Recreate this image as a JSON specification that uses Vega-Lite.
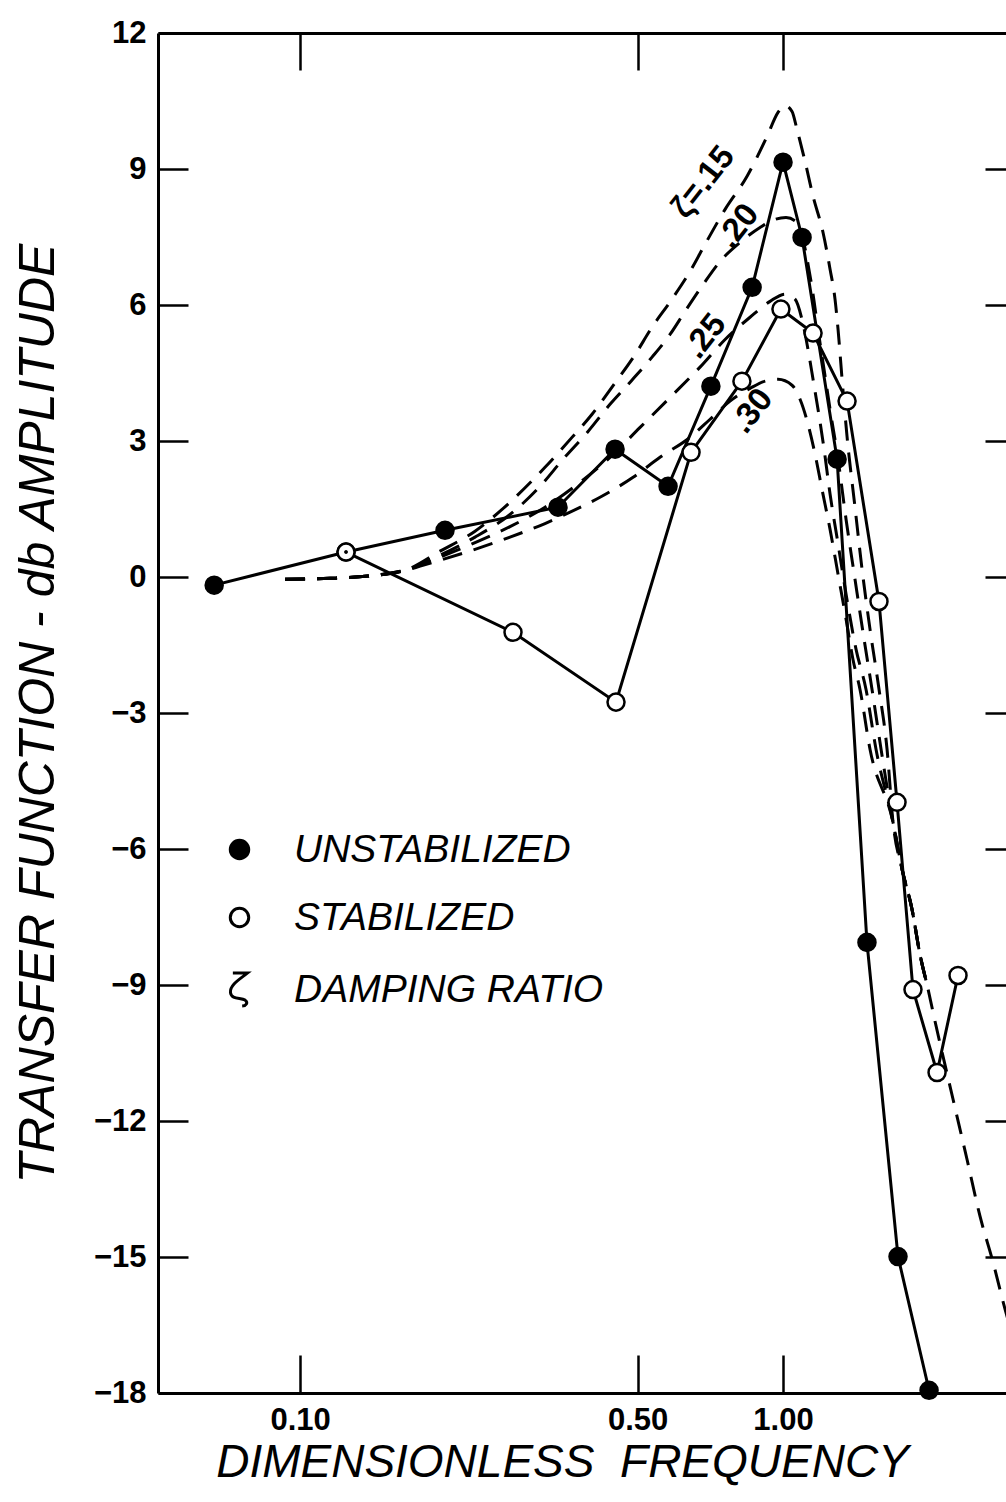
{
  "$schema": "https://vega.github.io/schema/vega-lite/v6.json",
  "width": 848,
  "height": 1360,
  "autosize": {"type": "none"},
  "padding": {"left": 158, "top": 33, "right": 0, "bottom": 109},
  "background": "white",
  "datasets": {
    "measured": [
      {"series": "UNSTABILIZED", "f": 0.0664, "db": -0.18},
      {"series": "UNSTABILIZED", "f": 0.1245, "db": 0.55},
      {"series": "UNSTABILIZED", "f": 0.1996, "db": 1.03},
      {"series": "UNSTABILIZED", "f": 0.342, "db": 1.54},
      {"series": "UNSTABILIZED", "f": 0.449, "db": 2.82},
      {"series": "UNSTABILIZED", "f": 0.578, "db": 2.0},
      {"series": "UNSTABILIZED", "f": 0.709, "db": 4.21},
      {"series": "UNSTABILIZED", "f": 0.863, "db": 6.39},
      {"series": "UNSTABILIZED", "f": 1.0, "db": 9.15},
      {"series": "UNSTABILIZED", "f": 1.095, "db": 7.49},
      {"series": "UNSTABILIZED", "f": 1.294, "db": 2.6},
      {"series": "UNSTABILIZED", "f": 1.492, "db": -8.06},
      {"series": "UNSTABILIZED", "f": 1.73, "db": -14.99},
      {"series": "UNSTABILIZED", "f": 2.006, "db": -17.94},
      {"series": "STABILIZED", "f": 0.1245, "db": 0.55},
      {"series": "STABILIZED", "f": 0.276, "db": -1.22},
      {"series": "STABILIZED", "f": 0.451, "db": -2.76},
      {"series": "STABILIZED", "f": 0.645, "db": 2.75},
      {"series": "STABILIZED", "f": 0.822, "db": 4.32},
      {"series": "STABILIZED", "f": 0.99, "db": 5.91},
      {"series": "STABILIZED", "f": 1.154, "db": 5.38},
      {"series": "STABILIZED", "f": 1.357, "db": 3.88},
      {"series": "STABILIZED", "f": 1.58, "db": -0.54},
      {"series": "STABILIZED", "f": 1.722, "db": -4.97},
      {"series": "STABILIZED", "f": 1.858, "db": -9.1},
      {"series": "STABILIZED", "f": 2.084, "db": -10.93},
      {"series": "STABILIZED", "f": 2.303, "db": -8.79}
    ],
    "damping": [
      {"zeta": ".15", "f": 0.0931, "db": -0.05},
      {"zeta": ".15", "f": 0.1154, "db": -0.03},
      {"zeta": ".15", "f": 0.1383, "db": 0.02},
      {"zeta": ".15", "f": 0.165, "db": 0.15},
      {"zeta": ".15", "f": 0.1949, "db": 0.57},
      {"zeta": ".15", "f": 0.2303, "db": 1.01},
      {"zeta": ".15", "f": 0.2721, "db": 1.65},
      {"zeta": ".15", "f": 0.3215, "db": 2.42},
      {"zeta": ".15", "f": 0.3656, "db": 3.08},
      {"zeta": ".15", "f": 0.4023, "db": 3.59},
      {"zeta": ".15", "f": 0.4467, "db": 4.25},
      {"zeta": ".15", "f": 0.4916, "db": 4.87},
      {"zeta": ".15", "f": 0.5355, "db": 5.51},
      {"zeta": ".15", "f": 0.589, "db": 6.13},
      {"zeta": ".15", "f": 0.6418, "db": 6.74},
      {"zeta": ".15", "f": 0.6929, "db": 7.38},
      {"zeta": ".15", "f": 0.7586, "db": 8.11},
      {"zeta": ".15", "f": 0.8424, "db": 8.84},
      {"zeta": ".15", "f": 0.9266, "db": 9.72},
      {"zeta": ".15", "f": 0.9764, "db": 10.25},
      {"zeta": ".15", "f": 1.0096, "db": 10.4},
      {"zeta": ".15", "f": 1.0438, "db": 10.27},
      {"zeta": ".15", "f": 1.069, "db": 9.87},
      {"zeta": ".15", "f": 1.1105, "db": 9.17},
      {"zeta": ".15", "f": 1.1538, "db": 8.4},
      {"zeta": ".15", "f": 1.2101, "db": 7.6},
      {"zeta": ".15", "f": 1.2513, "db": 6.79},
      {"zeta": ".15", "f": 1.2812, "db": 6.13},
      {"zeta": ".15", "f": 1.2999, "db": 5.46},
      {"zeta": ".15", "f": 1.3251, "db": 4.36},
      {"zeta": ".15", "f": 1.3568, "db": 3.1},
      {"zeta": ".15", "f": 1.4093, "db": 1.54},
      {"zeta": ".15", "f": 1.4575, "db": 0.17},
      {"zeta": ".15", "f": 1.5138, "db": -1.15},
      {"zeta": ".15", "f": 1.5805, "db": -2.48},
      {"zeta": ".15", "f": 1.642, "db": -3.8},
      {"zeta": ".15", "f": 1.6894, "db": -5.41},
      {"zeta": ".15", "f": 1.7641, "db": -6.45},
      {"zeta": ".15", "f": 1.8494, "db": -7.33},
      {"zeta": ".15", "f": 1.9214, "db": -8.33},
      {"zeta": ".15", "f": 1.9867, "db": -8.99},
      {"zeta": ".15", "f": 2.0638, "db": -9.8},
      {"zeta": ".15", "f": 2.249, "db": -11.52},
      {"zeta": ".15", "f": 2.4044, "db": -12.85},
      {"zeta": ".15", "f": 2.5575, "db": -14.1},
      {"zeta": ".15", "f": 2.7207, "db": -15.11},
      {"zeta": ".15", "f": 2.8817, "db": -16.15},
      {"zeta": ".15", "f": 2.979, "db": -16.7},
      {"zeta": ".20", "f": 0.0931, "db": -0.05},
      {"zeta": ".20", "f": 0.1154, "db": -0.03},
      {"zeta": ".20", "f": 0.1383, "db": 0.02},
      {"zeta": ".20", "f": 0.165, "db": 0.15},
      {"zeta": ".20", "f": 0.1949, "db": 0.48},
      {"zeta": ".20", "f": 0.2303, "db": 0.88},
      {"zeta": ".20", "f": 0.2721, "db": 1.38},
      {"zeta": ".20", "f": 0.314, "db": 2.0},
      {"zeta": ".20", "f": 0.3504, "db": 2.6},
      {"zeta": ".20", "f": 0.3947, "db": 3.21},
      {"zeta": ".20", "f": 0.4383, "db": 3.81},
      {"zeta": ".20", "f": 0.4845, "db": 4.32},
      {"zeta": ".20", "f": 0.5355, "db": 4.85},
      {"zeta": ".20", "f": 0.5834, "db": 5.35},
      {"zeta": ".20", "f": 0.6268, "db": 5.86},
      {"zeta": ".20", "f": 0.6829, "db": 6.45},
      {"zeta": ".20", "f": 0.7405, "db": 6.96},
      {"zeta": ".20", "f": 0.8147, "db": 7.38},
      {"zeta": ".20", "f": 0.8961, "db": 7.71},
      {"zeta": ".20", "f": 0.9625, "db": 7.89},
      {"zeta": ".20", "f": 1.0144, "db": 7.93},
      {"zeta": ".20", "f": 1.0639, "db": 7.84},
      {"zeta": ".20", "f": 1.1001, "db": 7.45},
      {"zeta": ".20", "f": 1.1265, "db": 6.9},
      {"zeta": ".20", "f": 1.1538, "db": 6.24},
      {"zeta": ".20", "f": 1.1815, "db": 5.46},
      {"zeta": ".20", "f": 1.2161, "db": 4.58},
      {"zeta": ".20", "f": 1.2513, "db": 3.7},
      {"zeta": ".20", "f": 1.2999, "db": 2.6},
      {"zeta": ".20", "f": 1.3506, "db": 1.27},
      {"zeta": ".20", "f": 1.4093, "db": -0.05},
      {"zeta": ".20", "f": 1.4714, "db": -1.37},
      {"zeta": ".20", "f": 1.5285, "db": -2.48},
      {"zeta": ".20", "f": 1.5957, "db": -3.8},
      {"zeta": ".20", "f": 1.6894, "db": -5.41},
      {"zeta": ".20", "f": 1.7641, "db": -6.45},
      {"zeta": ".20", "f": 1.8494, "db": -7.33},
      {"zeta": ".20", "f": 1.9214, "db": -8.33},
      {"zeta": ".20", "f": 1.9867, "db": -8.99},
      {"zeta": ".25", "f": 0.0931, "db": -0.05},
      {"zeta": ".25", "f": 0.1154, "db": -0.03},
      {"zeta": ".25", "f": 0.1383, "db": 0.02},
      {"zeta": ".25", "f": 0.165, "db": 0.15},
      {"zeta": ".25", "f": 0.1949, "db": 0.44},
      {"zeta": ".25", "f": 0.2303, "db": 0.76},
      {"zeta": ".25", "f": 0.2721, "db": 1.11},
      {"zeta": ".25", "f": 0.3215, "db": 1.54},
      {"zeta": ".25", "f": 0.38, "db": 2.09},
      {"zeta": ".25", "f": 0.4383, "db": 2.64},
      {"zeta": ".25", "f": 0.5058, "db": 3.3},
      {"zeta": ".25", "f": 0.5834, "db": 3.96},
      {"zeta": ".25", "f": 0.6732, "db": 4.63},
      {"zeta": ".25", "f": 0.7586, "db": 5.24},
      {"zeta": ".25", "f": 0.8544, "db": 5.73},
      {"zeta": ".25", "f": 0.9399, "db": 6.08},
      {"zeta": ".25", "f": 1.0096, "db": 6.24},
      {"zeta": ".25", "f": 1.0589, "db": 6.13},
      {"zeta": ".25", "f": 1.0947, "db": 5.68},
      {"zeta": ".25", "f": 1.1265, "db": 5.02},
      {"zeta": ".25", "f": 1.1538, "db": 4.36},
      {"zeta": ".25", "f": 1.1815, "db": 3.7},
      {"zeta": ".25", "f": 1.2161, "db": 2.82},
      {"zeta": ".25", "f": 1.2513, "db": 1.83},
      {"zeta": ".25", "f": 1.2999, "db": 0.73},
      {"zeta": ".25", "f": 1.3506, "db": -0.38},
      {"zeta": ".25", "f": 1.416, "db": -1.59},
      {"zeta": ".25", "f": 1.4854, "db": -2.48},
      {"zeta": ".25", "f": 1.5578, "db": -3.8},
      {"zeta": ".25", "f": 1.6894, "db": -5.41},
      {"zeta": ".25", "f": 1.7641, "db": -6.45},
      {"zeta": ".25", "f": 1.8494, "db": -7.33},
      {"zeta": ".25", "f": 1.9214, "db": -8.33},
      {"zeta": ".25", "f": 1.9867, "db": -8.99},
      {"zeta": ".30", "f": 0.0931, "db": -0.05},
      {"zeta": ".30", "f": 0.1154, "db": -0.03},
      {"zeta": ".30", "f": 0.1383, "db": 0.02},
      {"zeta": ".30", "f": 0.165, "db": 0.15},
      {"zeta": ".30", "f": 0.1949, "db": 0.37},
      {"zeta": ".30", "f": 0.2303, "db": 0.61},
      {"zeta": ".30", "f": 0.2721, "db": 0.88},
      {"zeta": ".30", "f": 0.3215, "db": 1.18},
      {"zeta": ".30", "f": 0.3623, "db": 1.43},
      {"zeta": ".30", "f": 0.4179, "db": 1.76},
      {"zeta": ".30", "f": 0.4893, "db": 2.2},
      {"zeta": ".30", "f": 0.5562, "db": 2.64},
      {"zeta": ".30", "f": 0.6418, "db": 3.08},
      {"zeta": ".30", "f": 0.7063, "db": 3.48},
      {"zeta": ".30", "f": 0.7767, "db": 3.88},
      {"zeta": ".30", "f": 0.8544, "db": 4.16},
      {"zeta": ".30", "f": 0.9178, "db": 4.32},
      {"zeta": ".30", "f": 0.9764, "db": 4.36},
      {"zeta": ".30", "f": 1.0438, "db": 4.23},
      {"zeta": ".30", "f": 1.0844, "db": 3.92},
      {"zeta": ".30", "f": 1.1265, "db": 3.37},
      {"zeta": ".30", "f": 1.1649, "db": 2.71},
      {"zeta": ".30", "f": 1.2043, "db": 1.93},
      {"zeta": ".30", "f": 1.2513, "db": 1.05},
      {"zeta": ".30", "f": 1.2999, "db": 0.06},
      {"zeta": ".30", "f": 1.3506, "db": -0.93},
      {"zeta": ".30", "f": 1.3958, "db": -1.82},
      {"zeta": ".30", "f": 1.4433, "db": -2.48},
      {"zeta": ".30", "f": 1.5138, "db": -3.8},
      {"zeta": ".30", "f": 1.6894, "db": -5.41},
      {"zeta": ".30", "f": 1.7641, "db": -6.45},
      {"zeta": ".30", "f": 1.8494, "db": -7.33},
      {"zeta": ".30", "f": 1.9214, "db": -8.33},
      {"zeta": ".30", "f": 1.9867, "db": -8.99}
    ],
    "curveLabels": [
      {"label": "ζ=.15", "f": 0.683, "db": 8.71},
      {"label": ".20", "f": 0.807, "db": 7.74},
      {"label": ".25", "f": 0.69, "db": 5.31},
      {"label": ".30", "f": 0.863, "db": 3.66}
    ]
  },
  "layer": [
    {
      "data": {"name": "damping"},
      "mark": {"type": "line", "stroke": "black", "strokeWidth": 3, "strokeDash": [20, 12], "interpolate": "monotone", "clip": true},
      "encoding": {
        "x": {"field": "f", "type": "quantitative",
              "scale": {"type": "log", "domain": [0.0508, 2.895], "nice": false},
              "axis": {"orient": "bottom", "values": [0.1, 0.5, 1], "format": ".2f", "tickSize": -38, "labelPadding": 50,
                       "labelFlush": false, "labelOverlap": false, "labelBound": false,
                       "title": "DIMENSIONLESS\u00a0\u00a0FREQUENCY", "titleFontSize": 46, "titleFontStyle": "italic",
                       "titleX": 404, "titleY": 69, "titleBaseline": "middle"}},
        "y": {"field": "db", "type": "quantitative",
              "scale": {"domain": [-18, 12], "nice": false, "zero": false},
              "axis": {"orient": "left", "values": [-18, -15, -12, -9, -6, -3, 0, 3, 6, 9, 12], "tickSize": -30, "labelPadding": 42,
                       "labelFlush": false, "labelOverlap": false, "labelBound": false,
                       "title": "TRANSFER FUNCTION - db AMPLITUDE", "titleFontSize": 50, "titleFontStyle": "italic",
                       "titleX": -120, "titleBaseline": "middle"}},
        "detail": {"field": "zeta"}
      }
    },
    {
      "data": {"name": "measured"},
      "mark": {"type": "line", "stroke": "black", "strokeWidth": 3, "clip": true},
      "encoding": {
        "x": {"field": "f", "type": "quantitative",
              "scale": {"type": "log", "domain": [0.0508, 2.895], "nice": false},
              "axis": {"orient": "top", "values": [0.1, 0.5, 1], "labels": false, "tickSize": -37, "title": null}},
        "y": {"field": "db", "type": "quantitative",
              "scale": {"domain": [-18, 12], "nice": false, "zero": false},
              "axis": {"orient": "right", "values": [-18, -15, -12, -9, -6, -3, 0, 3, 6, 9, 12], "labels": false, "domain": false, "tickSize": -21, "title": null}},
        "detail": {"field": "series"}
      }
    },
    {
      "data": {"name": "measured"},
      "mark": {"type": "point", "filled": true, "size": 290, "strokeWidth": 2.5, "opacity": 1},
      "encoding": {
        "x": {"field": "f", "type": "quantitative", "scale": {"type": "log", "domain": [0.0508, 2.895], "nice": false}, "axis": null},
        "y": {"field": "db", "type": "quantitative", "scale": {"domain": [-18, 12], "nice": false, "zero": false}, "axis": null},
        "fill": {"field": "series", "type": "nominal",
                 "scale": {"domain": ["UNSTABILIZED", "STABILIZED", "DAMPING RATIO"], "range": ["black", "white", "transparent"]},
                 "legend": {"orient": "none", "legendX": 62, "legendY": 797, "title": null, "padding": 0,
                            "labelFont": "Liberation Sans", "labelFontStyle": "italic", "labelFontSize": 39, "labelColor": "black", "labelLimit": 0,
                            "symbolStrokeColor": "black", "symbolStrokeWidth": 3, "symbolSize": 340, "rowPadding": 28, "labelOffset": 35}},
        "stroke": {"field": "series", "type": "nominal",
                   "scale": {"domain": ["UNSTABILIZED", "STABILIZED", "DAMPING RATIO"], "range": ["black", "black", "black"]},
                   "legend": {"orient": "none", "legendX": 62, "legendY": 797, "title": null, "padding": 0,
                              "labelFont": "Liberation Sans", "labelFontStyle": "italic", "labelFontSize": 39, "labelColor": "black", "labelLimit": 0,
                              "symbolStrokeColor": "black", "symbolStrokeWidth": 3, "symbolSize": 340, "rowPadding": 28, "labelOffset": 35}},
        "shape": {"field": "series", "type": "nominal",
                  "scale": {"domain": ["UNSTABILIZED", "STABILIZED", "DAMPING RATIO"],
                            "range": ["circle", "circle", "M -0.72 -1.8 L 0.88 -1.8 C 0.08 -1.15 -1.08 -0.5 -0.98 0.34 C -0.88 1.12 0.16 0.86 0.6 1.15 C 0.98 1.43 0.72 1.77 0.29 1.8"]},
                  "legend": {"orient": "none", "legendX": 62, "legendY": 797, "title": null, "padding": 0,
                             "labelFont": "Liberation Sans", "labelFontStyle": "italic", "labelFontSize": 39, "labelColor": "black", "labelLimit": 0,
                             "symbolStrokeColor": "black", "symbolStrokeWidth": 3, "symbolSize": 340, "rowPadding": 28, "labelOffset": 35}}
      }
    },
    {
      "data": {"name": "measured"},
      "transform": [
        {"joinaggregate": [{"op": "count", "as": "n"}], "groupby": ["f", "db"]},
        {"filter": "datum.n > 1"}
      ],
      "mark": {"type": "point", "filled": true, "size": 12, "color": "black", "opacity": 1},
      "encoding": {
        "x": {"field": "f", "type": "quantitative", "scale": {"type": "log", "domain": [0.0508, 2.895], "nice": false}, "axis": null},
        "y": {"field": "db", "type": "quantitative", "scale": {"domain": [-18, 12], "nice": false, "zero": false}, "axis": null}
      }
    },
    {
      "data": {"name": "curveLabels"},
      "mark": {"type": "text", "angle": -52, "font": "Liberation Sans", "fontSize": 33, "fontWeight": "bold", "color": "black", "align": "center", "baseline": "middle"},
      "encoding": {
        "x": {"field": "f", "type": "quantitative", "scale": {"type": "log", "domain": [0.0508, 2.895], "nice": false}, "axis": null},
        "y": {"field": "db", "type": "quantitative", "scale": {"domain": [-18, 12], "nice": false, "zero": false}, "axis": null},
        "text": {"field": "label"}
      }
    }
  ],
  "resolve": {"axis": {"x": "independent", "y": "independent"}},
  "config": {
    "view": {"stroke": null},
    "font": "Liberation Sans",
    "axis": {
      "domainColor": "black", "domainWidth": 3, "tickColor": "black", "tickWidth": 2.5, "grid": false,
      "labelFont": "Liberation Sans", "labelFontSize": 31, "labelFontWeight": "bold", "labelColor": "black",
      "titleFont": "Liberation Sans", "titleColor": "black", "titleFontWeight": "normal"
    }
  }
}
